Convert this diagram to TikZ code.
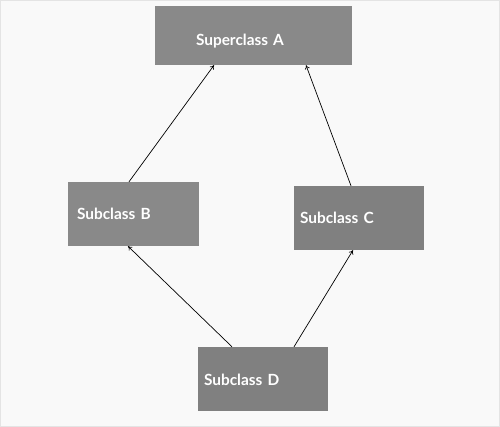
\documentclass[tikz,border=0pt]{standalone}
\usepackage{fontspec}
\setmainfont{Lato}
\usetikzlibrary{arrows.meta}
\definecolor{pagegray}{HTML}{F9F9F9}
\definecolor{edgegray}{HTML}{E4E4E4}
\definecolor{boxlight}{HTML}{898989}
\definecolor{boxdark}{HTML}{808080}
\newcommand\hb{64pt}
\newcommand\wc{130pt}

\begin{document}
\begin{tikzpicture}[x=1pt, y=-1pt,
    classbox/.style={fill=boxlight, text=white, font=\bfseries\fontsize{15.4}{18}\selectfont,
        align=left, inner ysep=0pt, minimum height=\hb, text height=15pt, text depth=3pt},
    inherit/.style={-{To[length=4pt, width=5pt]}, line width=0.7pt}]
    \useasboundingbox (0,0) rectangle (500,427);
    \draw[edgegray, fill=pagegray] (0.5,0.5) rectangle (499.5,426.5);

    \node (A) [classbox, inner xsep=41pt, text width=115pt, minimum height=59pt, text height=23pt] at (253.5,35.5) {Superclass A};
    \node (B) [classbox, inner xsep=9pt, text width=113pt] at (133.5,214) {Subclass B};
    \node (C) [classbox, fill=boxdark, inner xsep=6pt, text width=118pt] at (359,218) {Subclass C};
    \node (D) [classbox, fill=boxdark, inner xsep=6pt, text width=118pt] at (263,379) {Subclass D};

    \draw[inherit] ([xshift=-4.5pt]B.north) -- ([xshift=-39.5pt]A.south);
    \draw[inherit] ([xshift=-8pt]C.north) -- ([xshift=52.5pt]A.south);
    \draw[inherit] ([xshift=-31pt]D.north) -- ([xshift=-5.5pt]B.south);
    \draw[inherit] ([xshift=31pt]D.north) -- ([xshift=-6pt]C.south);
\end{tikzpicture}
\end{document}
